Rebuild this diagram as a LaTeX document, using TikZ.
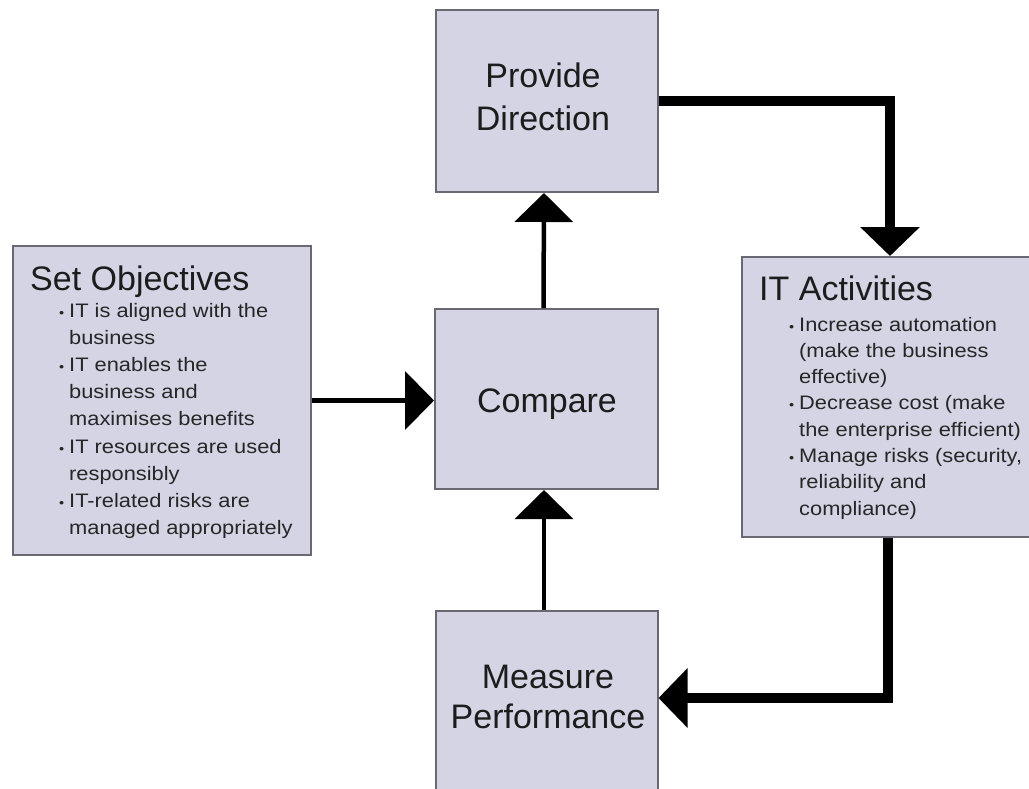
\documentclass[tikz,border=0pt]{standalone}
\usepackage{fontspec}
\setmainfont{Liberation Sans}
\newfontfamily\bulfont[FakeStretch=1.12]{Liberation Sans}
\usetikzlibrary{arrows.meta}
\definecolor{boxfill}{RGB}{212,212,228}
\definecolor{boxline}{RGB}{105,105,115}
\definecolor{txt}{RGB}{28,28,28}
\definecolor{bultxt}{RGB}{38,38,38}
\newcommand{\bl}{\llap{{\fontsize{13}{13}\selectfont\textbullet}\hspace{5pt}}}
\begin{document}
\begin{tikzpicture}[x=1pt,y=-1pt,
  panel/.style={draw=boxline, line width=2pt, fill=boxfill, inner sep=0pt},
  boxtitle/.style={text=txt, font=\fontsize{34}{41}\selectfont, inner sep=0pt},
  bullets/.style={text=bultxt, font=\bulfont\fontsize{19.5}{27}\selectfont, inner sep=0pt, anchor=base west},
  conthin/.style={line width=4.5pt, -{Triangle[length=29pt,width=58pt]}},
  conthick/.style={line width=10pt, line join=miter, -{Triangle[length=29pt,width=58pt]}}]
\fill[white] (0,0) rectangle (1029,788);
\useasboundingbox (0,0) rectangle (1029,788);

% boxes
\node[panel, minimum width=222pt, minimum height=182pt] (pd) at (547,101) {};
\node[panel, minimum width=223pt, minimum height=180pt] (cmp) at (546.5,399) {};
\node[panel, minimum width=222pt, minimum height=180pt] (mp) at (546.5,701) {};
\node[panel, minimum width=298pt, minimum height=309pt] (so) at (162,400.5) {};
\node[panel, minimum width=298pt, minimum height=280pt] (it) at (891,397) {};

% titles
\node[boxtitle, anchor=base] (pdt1) at (543,87) {Provide};
\node[boxtitle, anchor=base] (pdt2) at (543,130) {Direction};
\node[boxtitle, anchor=base] (cmpt) at (547,412) {Compare};
\node[boxtitle, anchor=base] (mpt1) at (548,688) {Measure};
\node[boxtitle, anchor=base] (mpt2) at (548,728) {Performance};
\node[boxtitle, anchor=base west] (sot) at (30,290) {Set Objectives};
\node[boxtitle, anchor=base west] (itt) at (759,300) {IT Activities};

% bullet texts
\node[bullets] (sob) at (69,317) {\vtop{\baselineskip=27.2pt
  \hbox{\bl IT is aligned with the}
  \hbox{business}
  \hbox{\bl IT enables the}
  \hbox{business and}
  \hbox{maximises benefits}
  \hbox{\bl IT resources are used}
  \hbox{responsibly}
  \hbox{\bl IT-related risks are}
  \hbox{managed appropriately}}};
\node[bullets] (itb) at (799,331) {\vtop{\baselineskip=26.3pt
  \hbox{\bl Increase automation}
  \hbox{(make the business}
  \hbox{effective)}
  \hbox{\bl Decrease cost (make}
  \hbox{the enterprise efficient)}
  \hbox{\bl Manage risks (security,}
  \hbox{reliability and}
  \hbox{compliance)}}};

% connectors
\coordinate (kx1) at (890,0);
\coordinate (kx2) at (888,0);
\draw[conthin] ([xshift=-3pt]cmp.north) -- ([xshift=-3pt]pd.south);
\draw[conthin] ([xshift=-2.5pt]mp.north) -- ([xshift=-2.5pt]cmp.south);
\draw[conthin] (so.east) -- (cmp.west |- so.east);
\draw[conthick] (pd.east) -| (kx1 |- it.north);
\draw[conthick] (kx2 |- it.south) |- ([yshift=3pt]mp.east);
\end{tikzpicture}
\end{document}
